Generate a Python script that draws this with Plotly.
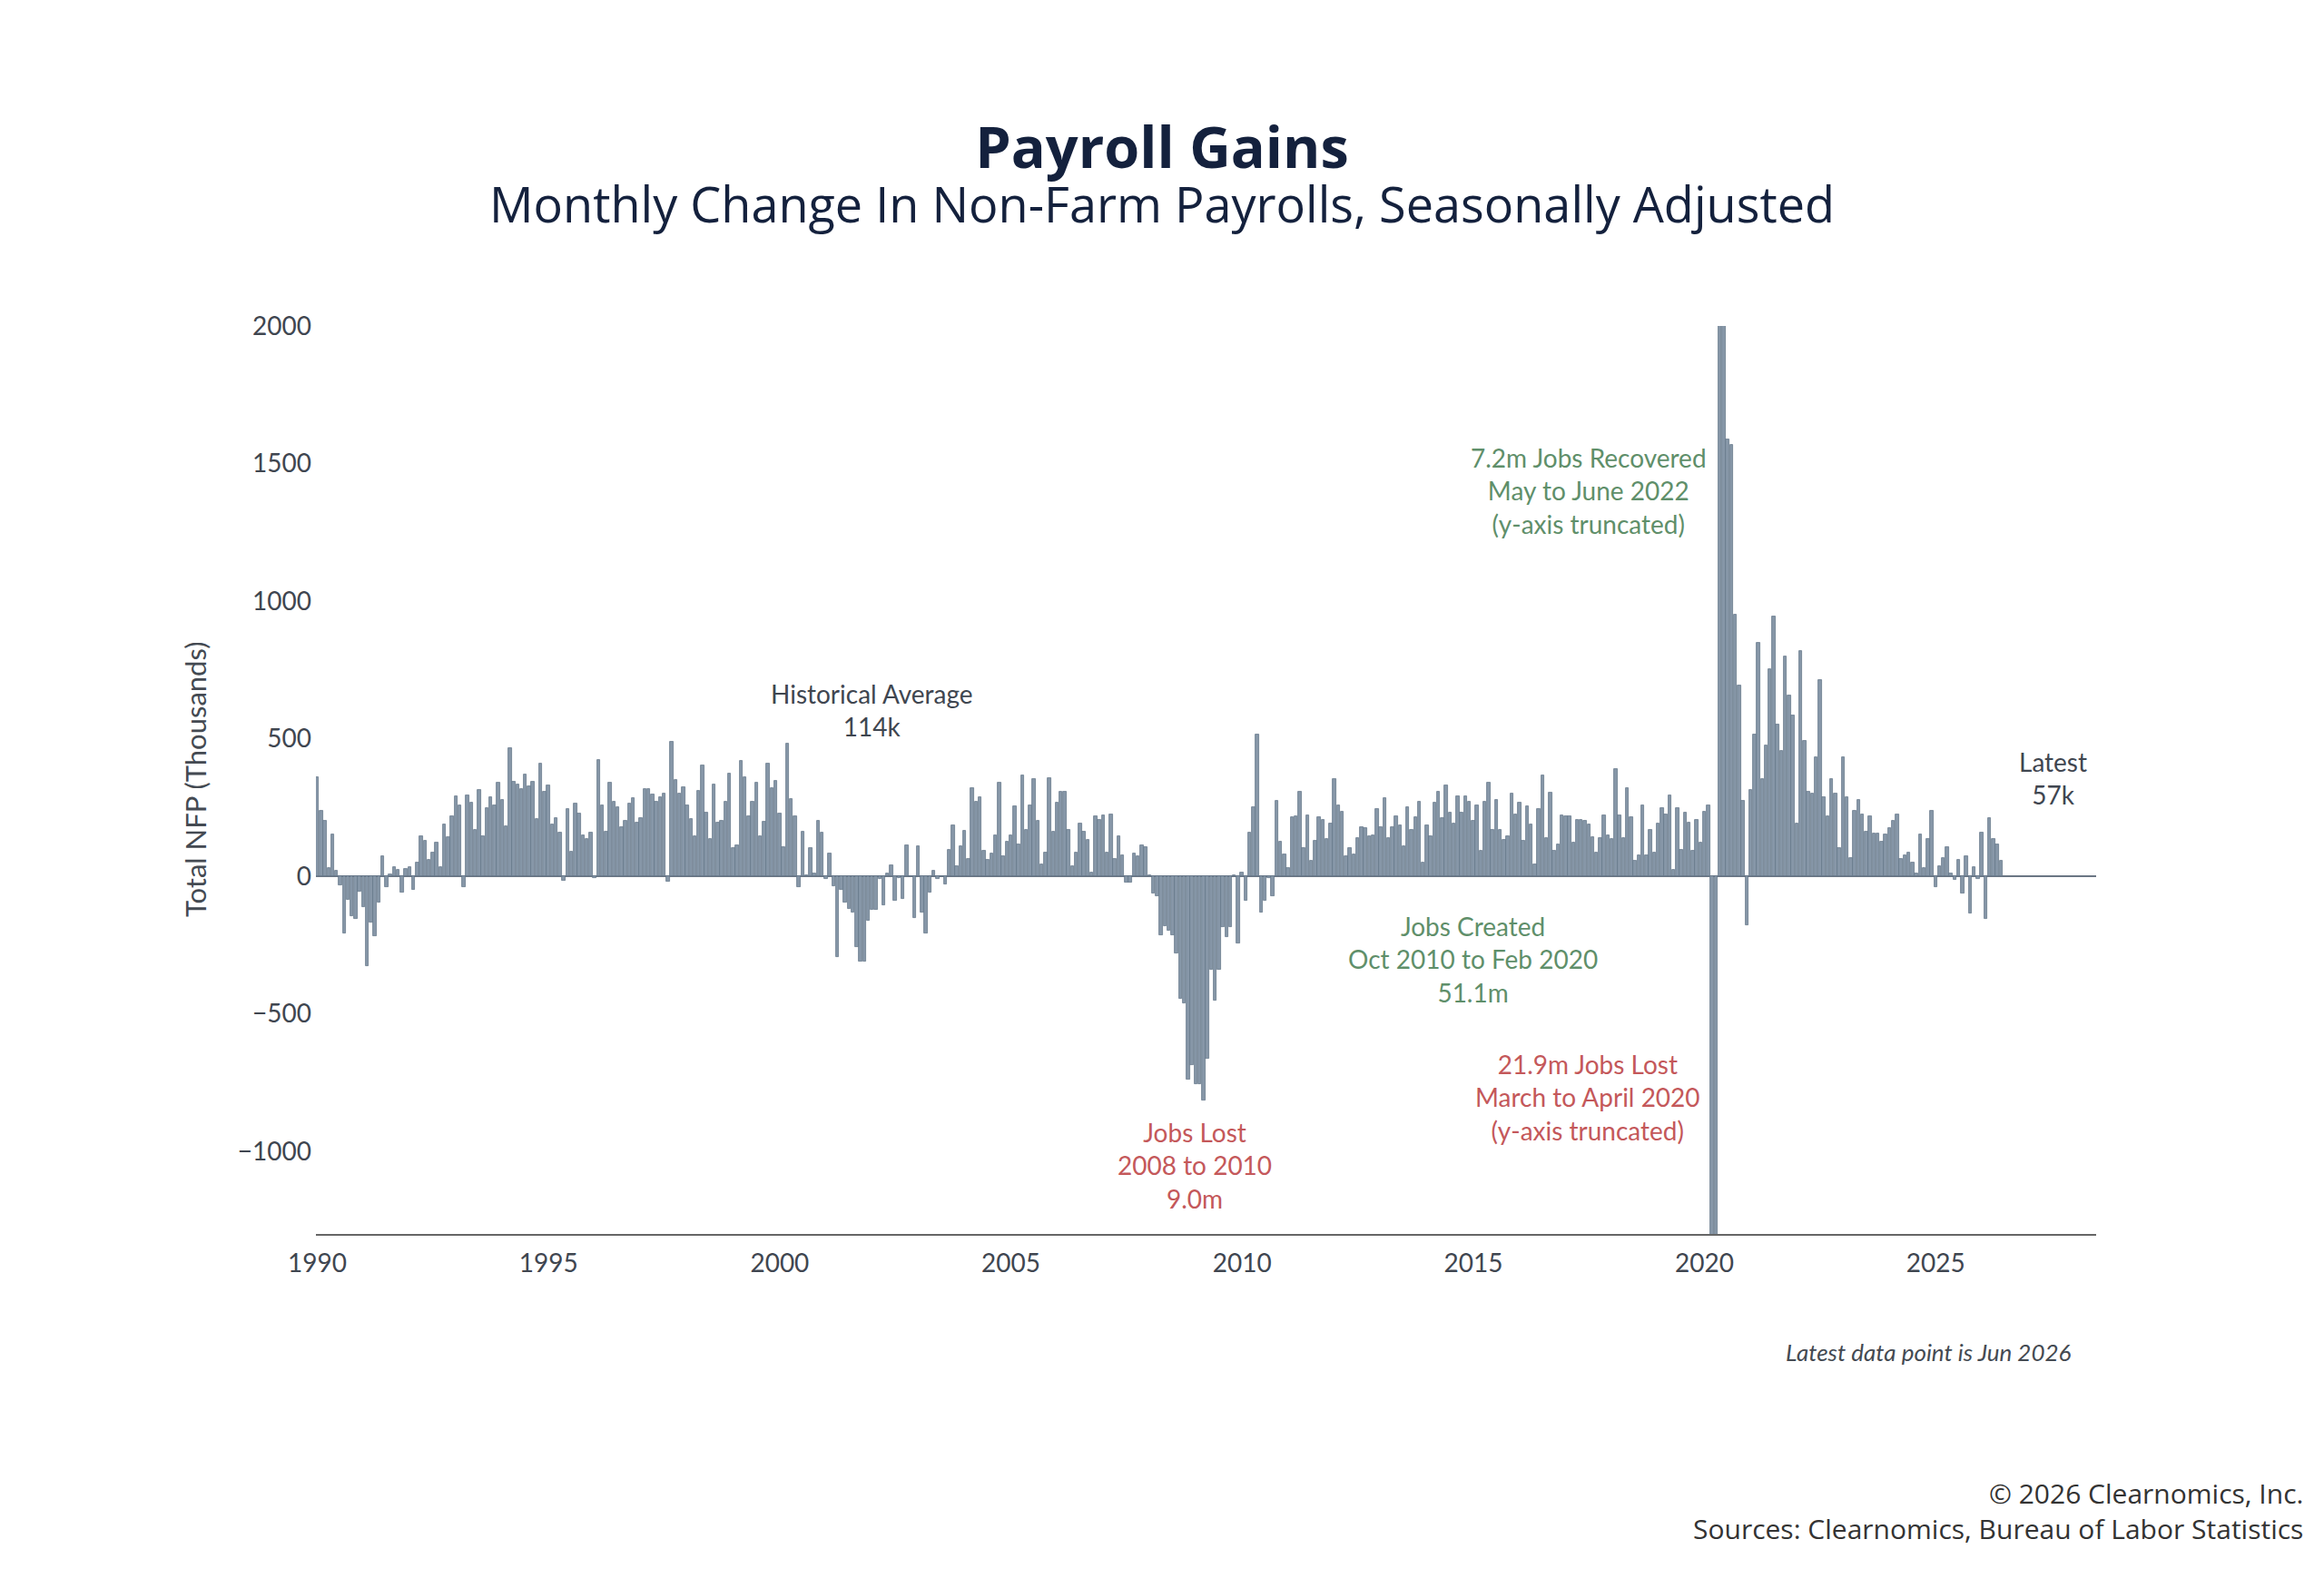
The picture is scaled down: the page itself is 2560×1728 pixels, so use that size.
import plotly.graph_objects as go

# ---------------- data (monthly change in NFP, thousands) ----------------
start_year = 1990
nfp_1990 = [361, 239, 203, 30, 152, 19, -33, -208, -86, -144, -156, -56]
nfp_1991 = [-111, -326, -167, -219, -97, 74, -39, 6, 33, 22, -59, 26]
nfp_1992 = [32, -50, 50, 147, 128, 59, 86, 122, 33, 187, 141, 219]
nfp_1993 = [289, 256, -41, 294, 269, 170, 313, 144, 248, 286, 256, 339]
nfp_1994 = [278, 181, 467, 344, 333, 317, 370, 326, 344, 209, 411, 306]
nfp_1995 = [330, 189, 213, 158, -17, 244, 89, 263, 228, 150, 137, 159]
nfp_1996 = [-6, 422, 256, 163, 339, 272, 250, 178, 200, 263, 283, 194]
nfp_1997 = [211, 317, 317, 297, 272, 286, 299, -19, 489, 350, 300, 324]
nfp_1998 = [256, 209, 147, 311, 402, 230, 136, 333, 194, 202, 272, 374]
nfp_1999 = [103, 114, 419, 361, 217, 270, 339, 147, 198, 408, 319, 347]
nfp_2000 = [228, 106, 483, 281, 219, -41, 163, 5, 102, 11, 203, 159]
nfp_2001 = [-11, 83, -37, -294, -50, -94, -117, -133, -256, -311, -311, -161]
nfp_2002 = [-122, -122, -11, -106, 11, 39, -89, -5, -81, 113, 0, -150]
nfp_2003 = [108, -133, -208, -59, 20, -11, 0, -28, 97, 186, 37, 108]
nfp_2004 = [166, 63, 319, 270, 286, 94, 59, 83, 148, 341, 72, 126]
nfp_2005 = [150, 253, 117, 367, 169, 258, 352, 200, 44, 86, 356, 161]
nfp_2006 = [267, 306, 306, 170, 37, 86, 192, 163, 133, 13, 217, 206]
nfp_2007 = [222, 86, 224, 63, 144, 77, -22, -22, 83, 74, 114, 106]
nfp_2008 = [5, -63, -72, -213, -180, -198, -213, -281, -446, -461, -739, -686]
nfp_2009 = [-754, -757, -814, -664, -341, -453, -341, -183, -221, -183, 5, -243]
nfp_2010 = [15, -90, 159, 252, 515, -131, -90, -5, -71, 275, 125, 78]
nfp_2011 = [30, 215, 218, 308, 102, 222, 57, 129, 215, 204, 135, 192]
nfp_2012 = [353, 257, 234, 72, 102, 80, 140, 177, 174, 147, 150, 245]
nfp_2013 = [177, 285, 140, 177, 218, 185, 108, 252, 170, 215, 270, 50]
nfp_2014 = [185, 144, 267, 308, 212, 330, 230, 193, 292, 231, 289, 272]
nfp_2015 = [201, 256, 91, 270, 339, 168, 278, 170, 132, 146, 300, 226]
nfp_2016 = [266, 129, 253, 187, 44, 244, 368, 138, 303, 94, 116, 222]
nfp_2017 = [218, 217, 121, 204, 204, 201, 187, 143, 85, 138, 222, 149]
nfp_2018 = [135, 391, 222, 140, 319, 215, 55, 77, 256, 77, 167, 85]
nfp_2019 = [190, 248, 226, 294, 22, 248, 96, 231, 195, 91, 204, 123]
nfp_2020 = [235, 257, -1373, -20477, 2725, 4505, 1587, 1569, 950, 693, 273, -179]
nfp_2021 = [313, 514, 849, 353, 476, 753, 943, 552, 454, 800, 657, 585]
nfp_2022 = [190, 818, 492, 308, 302, 434, 713, 288, 219, 353, 300, 101]
nfp_2023 = [434, 288, 67, 239, 279, 223, 163, 217, 156, 156, 125, 152]
nfp_2024 = [174, 203, 223, 63, 76, 85, 49, 10, 152, 31, 134, 237]
nfp_2025 = [-40, 36, 67, 105, 11, -13, 60, -63, 72, -134, 34, -11]
nfp_2026 = [160, -154, 211, 134, 116, 57]

year_ticks = [1990, 1995, 2000, 2005, 2010, 2015, 2020, 2025]
y_ticks = [-1000, -500, 0, 500, 1000, 1500, 2000]

yearly = [nfp_1990, nfp_1991, nfp_1992, nfp_1993, nfp_1994, nfp_1995, nfp_1996,
          nfp_1997, nfp_1998, nfp_1999, nfp_2000, nfp_2001, nfp_2002, nfp_2003,
          nfp_2004, nfp_2005, nfp_2006, nfp_2007, nfp_2008, nfp_2009, nfp_2010,
          nfp_2011, nfp_2012, nfp_2013, nfp_2014, nfp_2015, nfp_2016, nfp_2017,
          nfp_2018, nfp_2019, nfp_2020, nfp_2021, nfp_2022, nfp_2023, nfp_2024,
          nfp_2025, nfp_2026]

values = []
xs = []
for k, yr in enumerate(yearly):
    for m, v in enumerate(yr):
        xs.append(start_year + k + m / 12.0)
        values.append(v)

# ---------------- figure ----------------
fig = go.Figure()
fig.add_trace(go.Bar(
    x=xs, y=values, width=[0.82 / 12] * len(xs),
    marker=dict(color="#8797a8", line=dict(color="#66778a", width=0.8)),
    hoverinfo="x+y", showlegend=False,
))

ann_font = "Lato, 'Open Sans', sans-serif"
gray = "#3f4650"
green = "#5f8f6a"
red = "#c4585a"

annotations = [
    dict(x=2002.0, y=604, text="Historical Average<br>114k", color=gray),
    dict(x=2027.53, y=356, text="Latest<br>57k", color=gray),
    dict(x=2017.5, y=1402, text="7.2m Jobs Recovered<br>May to June 2022<br>(y-axis truncated)", color=green),
    dict(x=2015.0, y=-302, text="Jobs Created<br>Oct 2010 to Feb 2020<br>51.1m", color=green),
    dict(x=2017.47, y=-803, text="21.9m Jobs Lost<br>March to April 2020<br>(y-axis truncated)", color=red),
    dict(x=2008.97, y=-1051, text="Jobs Lost<br>2008 to 2010<br>9.0m", color=red),
]
for a in annotations:
    fig.add_annotation(x=a["x"], y=a["y"], xref="x", yref="y", text=a["text"],
                       showarrow=False, align="center", xanchor="center", yanchor="middle",
                       font=dict(family=ann_font, size=28, color=a["color"]))

# titles / footers (positions in pixels, converted to paper fractions below)
fig.add_annotation(x=1280, y=189, xref="paper", yref="paper",
                   text=("<span style='font-size:63px'><b>Payroll Gains</b></span><br>"
                         "<span style='font-size:54px'>Monthly Change In Non-Farm Payrolls, "
                         "Seasonally Adjusted</span>"),
                   showarrow=False, xanchor="center", yanchor="middle", align="center",
                   font=dict(family="'Open Sans', sans-serif", size=46, color="#14213d"))
fig.add_annotation(x=2284, y=1489, xref="paper", yref="paper",
                   text="<i>Latest data point is Jun 2026</i>",
                   showarrow=False, xanchor="right", yanchor="middle",
                   font=dict(family=ann_font, size=26, color="#444a52"))
fig.add_annotation(x=2539, y=1664, xref="paper", yref="paper",
                   text="© 2026 Clearnomics, Inc.<br>Sources: Clearnomics, Bureau of Labor Statistics",
                   showarrow=False, xanchor="right", yanchor="middle", align="right",
                   font=dict(family="'Open Sans', sans-serif", size=30, color="#333333"))
fig.add_annotation(x=215, y=859, xref="paper", yref="paper",
                   text="Total NFP (Thousands)", textangle=-90,
                   showarrow=False, xanchor="center", yanchor="middle",
                   font=dict(family=ann_font, size=31, color="#444a52"))

L, R, T, B = 348, 251, 359, 369
W, H = 2560, 1728
pw, ph = W - L - R, H - T - B
for ann in fig.layout.annotations:
    if ann.xref == "paper":
        if ann.x > 2:
            ann.x = (ann.x - L) / pw
        ann.y = (H - B - ann.y) / ph

fig.update_layout(
    width=W, height=H,
    margin=dict(l=L, r=R, t=T, b=B, pad=0),
    paper_bgcolor="#ffffff", plot_bgcolor="#ffffff",
    bargap=0,
    xaxis=dict(range=[1989.97, 2028.47], tickvals=year_ticks,
               ticktext=[str(t) for t in year_ticks], showgrid=False,
               showline=True, linecolor="#666666", linewidth=2, ticks="",
               zeroline=False, ticklabelstandoff=6,
               tickfont=dict(family=ann_font, size=28, color="#3f4650")),
    yaxis=dict(range=[-1300, 2000], tickvals=y_ticks,
               ticktext=[("−" + str(abs(t))) if t < 0 else str(t) for t in y_ticks],
               showgrid=False, showline=False, ticks="",
               zeroline=True, zerolinecolor="#6b7684", zerolinewidth=2,
               ticklabelstandoff=4,
               tickfont=dict(family=ann_font, size=28, color="#3f4650")),
)

fig.write_html("out.html")
